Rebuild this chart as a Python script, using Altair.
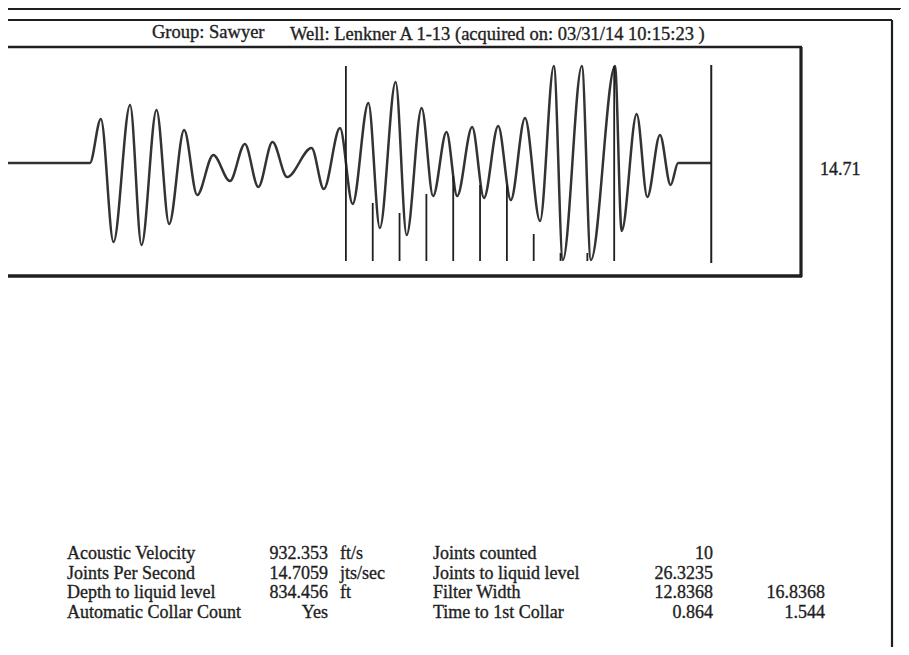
import altair as alt
import pandas as pd

# ---- values ----
# acoustic trace extrema: time (s) and amplitude (arbitrary units)
wave_t = [0.000, 0.215, 0.243, 0.275, 0.317, 0.346, 0.384, 0.416, 0.454, 0.487,
          0.528, 0.570, 0.608, 0.642, 0.678, 0.715, 0.777, 0.808, 0.849, 0.881,
          0.921, 0.950, 0.990, 1.018, 1.056, 1.085, 1.119, 1.146, 1.184, 1.214,
          1.250, 1.282, 1.318, 1.356, 1.391, 1.414, 1.462, 1.485, 1.546, 1.563,
          1.601, 1.628, 1.660, 1.687, 1.706, 1.790]
wave_a = [0, 0, 44, -79, 58, -82, 53, -61, 33, -32,
          8, -18, 19, -24, 21, -14, 15, -26, 35, -41,
          60, -65, 81, -72, 55, -33, 31, -33, 36, -35,
          37, -37, 45, -58, 97, -97, 97, -97, 97, -68,
          49, -34, 28, -22, 0, 0]

# collar markers (s) and the level each marker reaches up to
collar_t = [0.864, 0.932, 1.000, 1.068, 1.136, 1.204, 1.272, 1.340, 1.408, 1.476, 1.544]
collar_top = [97, -40, -50, -31, -13, -22, -22, -71, -90, -90, 97]

# liquid level marker (s)
liquid_t = [1.790]

jps_display = ["14.71"]

group_text = ["Group: Sawyer"]
well_text = ["Well: Lenkner A 1-13 (acquired on: 03/31/14 10:15:23 )"]

left_labels = ["Acoustic Velocity", "Joints Per Second", "Depth to liquid level", "Automatic Collar Count"]
left_values = ["932.353", "14.7059", "834.456", "Yes"]
left_units = ["ft/s", "jts/sec", "ft", ""]
right_labels = ["Joints counted", "Joints to liquid level", "Filter Width", "Time to 1st Collar"]
right_values = ["10", "26.3235", "12.8368", "0.864"]
right_values2 = ["", "", "16.8368", "1.544"]

# ---- styling ----
FONT = "Liberation Serif"
INK = "#1f1f1f"
FS = 18

t_scale = alt.Scale(domain=[0, 2.02], range=[-3, 794], nice=False, zero=False)
a_scale = alt.Scale(domain=[-98, 98], range=[253, 57], nice=False, zero=False)
row_scale = alt.Scale(domain=[0, 3], range=[546, 604.5], nice=False, zero=False)

one = pd.DataFrame({"k": [0]})


def hline(y, x0, x1, w):
    return alt.Chart(one).mark_rule(color=INK, strokeWidth=w).encode(
        x=alt.value(x0), x2=alt.value(x1), y=alt.value(y))


def vline(x, y0, y1, w):
    return alt.Chart(one).mark_rule(color=INK, strokeWidth=w).encode(
        x=alt.value(x), y=alt.value(y0), y2=alt.value(y1))


wave = alt.Chart(pd.DataFrame({"t": wave_t, "a": wave_a})).mark_line(
    color="#333333", strokeWidth=2.5, interpolate="monotone"
).encode(
    x=alt.X("t:Q", scale=t_scale, axis=None),
    y=alt.Y("a:Q", scale=a_scale, axis=None),
)

collars = alt.Chart(pd.DataFrame({"t": collar_t, "top": collar_top})).mark_rule(
    color=INK, strokeWidth=1.8
).encode(
    x=alt.X("t:Q", scale=t_scale, axis=None),
    y=alt.Y("top:Q", scale=a_scale, axis=None),
    y2=alt.value(253),
)

liquid = alt.Chart(pd.DataFrame({"t": liquid_t})).mark_rule(
    color=INK, strokeWidth=2
).encode(
    x=alt.X("t:Q", scale=t_scale, axis=None),
    y=alt.value(57),
    y2=alt.value(255),
)


def single_text(values, x, y, align="left", size=FS):
    return alt.Chart(pd.DataFrame({"txt": values})).mark_text(
        font=FONT, fontSize=size, color=INK, align=align,
        baseline="middle", stroke=INK, strokeWidth=0.35
    ).encode(x=alt.value(x), y=alt.value(y), text="txt:N")


def column_text(values, x, align):
    df = pd.DataFrame({"row": list(range(len(values))), "txt": values})
    return alt.Chart(df).mark_text(
        font=FONT, fontSize=FS, color=INK, align=align,
        baseline="middle", stroke=INK, strokeWidth=0.35
    ).encode(
        x=alt.value(x),
        y=alt.Y("row:Q", scale=row_scale, axis=None),
        text="txt:N",
    )


layers = [
    # page frames
    hline(1, 0, 892, 1.8),
    vline(892, 0, 1, 1.8),
    hline(12, 0, 884, 1.8),
    vline(884, 12, 639, 2.2),
    # trace box
    hline(39, -3, 794, 2.4),
    hline(268, -3, 794, 3.4),
    vline(793, 39, 269, 3.2),
    wave,
    collars,
    liquid,
    single_text(group_text, 144, 24, size=18.5),
    single_text(well_text, 282, 26, size=18.5),
    single_text(jps_display, 812, 162),
    column_text(left_labels, 59, "left"),
    column_text(left_values, 320, "right"),
    column_text(left_units, 332, "left"),
    column_text(right_labels, 425, "left"),
    column_text(right_values, 705, "right"),
    column_text(right_values2, 817, "right"),
]

chart = alt.layer(*layers).resolve_scale(x="independent", y="independent").properties(
    width=893,
    height=639,
    padding=0,
    autosize=alt.AutoSizeParams(type="none"),
    background="white",
).configure_view(stroke=None)

chart.save("out.html", embed_options={"renderer": "svg", "actions": False})
